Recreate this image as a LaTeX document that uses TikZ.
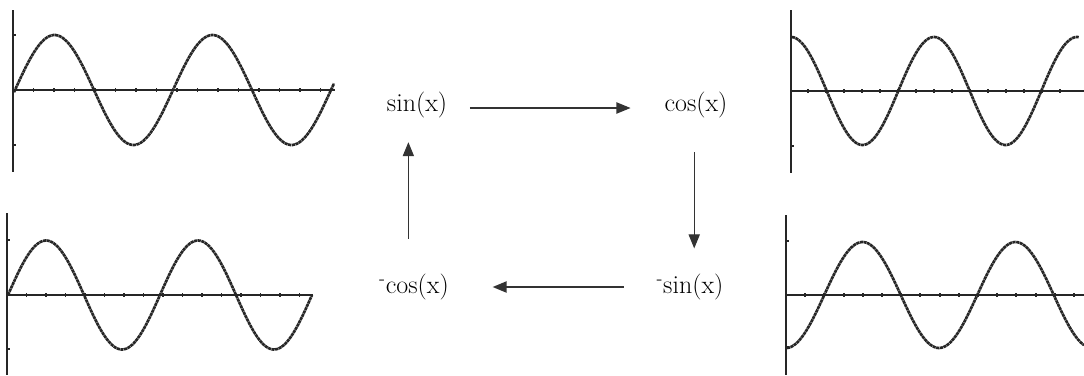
\documentclass[tikz,border=0pt]{standalone}
\usepackage{tikz}
\usetikzlibrary{arrows.meta, calc}

\begin{document}
\begin{tikzpicture}[
    x=0.025cm, y=-0.025cm,
    fn/.style={inner sep=0pt, font=\fontsize{18.5}{22}\selectfont},
    arrow/.style={-{Triangle[length=10pt, width=8pt]}, line width=0.8pt, draw=black!80},
    axis/.style={line width=1.4pt, draw=black!85},
    curve/.style={line width=1.9pt, draw=black!85, dash pattern=on 2.2pt off 0.4pt},
]
\useasboundingbox (0,0) rectangle (1084,375);

% function labels
\node[fn] (sin)  at (417,105) {sin(x)};
\node[fn] (cos)  at (696,105) {cos(x)};
\node[fn] (msin) at (690,287) {\textsuperscript{-}sin(x)};
\node[fn] (mcos) at (414,287) {\textsuperscript{-}cos(x)};

\draw[arrow, shorten <=16pt, shorten >=24pt] (sin.east |- 0,108) -- (cos.west |- 0,108);
\draw[arrow, shorten <=24pt, shorten >=18pt] ([xshift=3]msin.north |- cos.south) -- ([xshift=3]msin.north);
\draw[arrow, line width=1.1pt, shorten <=23pt, shorten >=31pt] (msin.west) -- (mcos.east);
\draw[arrow, shorten <=25pt, shorten >=17pt] ([xshift=-4]mcos.north) -- ([xshift=-4]mcos.north |- sin.south);

% sin graph (top left)
\draw[axis] (13,10) -- (13,172);
\draw[axis] (13,90) -- (335,90);
\foreach \k in {1,...,15}
    \draw[axis] ({13+20.5*\k},88) -- ++(0,4);
\draw[axis] (13,35) -- ++(3,0);
\draw[axis] (13,145) -- ++(3,0);
\draw[curve] plot[domain=14:334, samples=140, smooth] (\x,{90-55*sin((\x-15)/158*360)});

% cos graph (top right)
\draw[axis] (791,10) -- (791,173);
\draw[axis] (791,91) -- (1084,91);
\foreach \k in {1,...,15}
    \draw[axis] ({790+18*\k},89) -- ++(0,4);
\draw[axis] (791,37) -- ++(3,0);
\draw[axis] (791,146) -- ++(3,0);
\draw[curve] plot[domain=792:1079, samples=140, smooth] (\x,{91-54*cos((\x-791)/143*360)});

% -sin graph (bottom right)
\draw[axis] (786,215) -- (786,375);
\draw[axis] (786,295) -- (1084,295);
\foreach \k in {1,...,15}
    \draw[axis] ({786+19.2*\k},293) -- ++(0,4);
\draw[axis] (786,241) -- ++(3,0);
\draw[axis] (786,347) -- ++(3,0);
\draw[curve] plot[domain=787:1084, samples=140, smooth] (\x,{295+53*cos((\x-786)/153*360)});

% -cos graph (bottom left)
\draw[axis] (7,213) -- (7,375);
\draw[axis] (7,295) -- (313,295);
\foreach \k in {1,...,15}
    \draw[axis] ({7+19.5*\k},293) -- ++(0,4);
\draw[axis] (7,240) -- ++(3,0);
\draw[axis] (7,349) -- ++(3,0);
\draw[curve] plot[domain=8:312, samples=140, smooth] (\x,{295-54.5*sin((\x-8)/152*360)});

\end{tikzpicture}
\end{document}
